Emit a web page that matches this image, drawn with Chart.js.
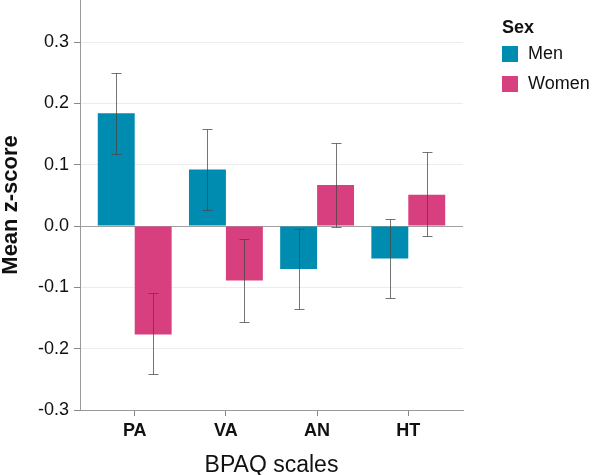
<!DOCTYPE html>
<html>
<head>
<meta charset="utf-8">
<script src="https://cdn.jsdelivr.net/npm/chart.js@4.4.1/dist/chart.umd.min.js"></script>
<style>
  html, body { margin: 0; padding: 0; background: #fff; }
  #wrap { width: 596px; height: 475px; }
</style>
</head>
<body>
<div id="wrap"><canvas id="chart" width="596" height="475"></canvas></div>
<script>
/** Data */
const scaleNames = ['PA', 'VA', 'AN', 'HT'];
const menMean = [0.184, 0.092, -0.070, -0.053];
const menLow = [0.117, 0.026, -0.135, -0.118];
const menHigh = [0.249, 0.158, -0.005, 0.012];
const womenMean = [-0.177, -0.089, 0.067, 0.051];
const womenLow = [-0.242, -0.157, -0.001, -0.017];
const womenHigh = [-0.110, -0.021, 0.136, 0.120];
const yTicks = [-0.3, -0.2, -0.1, 0.0, 0.1, 0.2, 0.3];

const MEN = '#008BB0';
const WOMEN = '#D83F7E';
const FONT = 'Arial, "Liberation Sans", Helvetica, sans-serif';

Chart.defaults.font.family = FONT;
Chart.defaults.color = '#111';

const toPoints = arr => arr.map((v, i) => ({ x: i, y: v }));

/** Error bars drawn over bars */
const errorBars = {
  id: 'errorBars',
  afterDatasetsDraw(chart) {
    const ctx = chart.ctx;
    const y = chart.scales.y;
    ctx.save();
    ctx.strokeStyle = 'rgba(70,70,70,0.75)';
    ctx.lineWidth = 1;
    chart.data.datasets.forEach((ds, di) => {
      const meta = chart.getDatasetMeta(di);
      meta.data.forEach((bar, i) => {
        const x = Math.round(bar.x) + 0.5;
        const lo = Math.round(y.getPixelForValue(ds.errLow[i])) + 0.5;
        const hi = Math.round(y.getPixelForValue(ds.errHigh[i])) + 0.5;
        ctx.beginPath();
        ctx.moveTo(x, lo); ctx.lineTo(x, hi);
        ctx.moveTo(x - 5, lo); ctx.lineTo(x + 5, lo);
        ctx.moveTo(x - 5, hi); ctx.lineTo(x + 5, hi);
        ctx.stroke();
      });
    });
    ctx.restore();
  }
};

/** Legend on the right */
const sideLegend = {
  id: 'sideLegend',
  afterDraw(chart) {
    const ctx = chart.ctx;
    ctx.save();
    ctx.textBaseline = 'middle';
    ctx.textAlign = 'left';
    ctx.fillStyle = '#111';
    ctx.font = 'bold 18px ' + FONT;
    ctx.fillText('Sex', 502, 28);
    chart.data.datasets.forEach((ds, i) => {
      const top = 46 + i * 30;
      ctx.fillStyle = ds.backgroundColor;
      ctx.fillRect(502, top, 16, 16);
      ctx.fillStyle = '#111';
      ctx.font = '18px ' + FONT;
      ctx.fillText(ds.label, 528, top + 8);
    });
    ctx.restore();
  }
};

new Chart(document.getElementById('chart'), {
  type: 'bar',
  data: {
    datasets: [{
      label: 'Men',
      data: toPoints(menMean),
      errLow: menLow,
      errHigh: menHigh,
      backgroundColor: MEN
    }, {
      label: 'Women',
      data: toPoints(womenMean),
      errLow: womenLow,
      errHigh: womenHigh,
      backgroundColor: WOMEN
    }]
  },
  options: {
    responsive: false,
    animation: false,
    layout: { padding: { top: 0, right: 133, left: 0, bottom: 0 } },
    categoryPercentage: 0.81,
    barPercentage: 1.0,
    plugins: {
      legend: { display: false },
      tooltip: { enabled: false }
    },
    scales: {
      x: {
        type: 'linear',
        min: -0.6,
        max: 3.6,
        offset: false,
        afterBuildTicks: s => { s.ticks = scaleNames.map((_, i) => ({ value: i })); },
        afterFit: s => { s.height = 65; s.paddingLeft = 0; s.paddingRight = 0; },
        ticks: {
          autoSkip: false,
          maxRotation: 0,
          padding: 4,
          color: '#111',
          font: { size: 18, weight: 'bold' },
          callback: v => scaleNames[v]
        },
        grid: { offset: false, drawOnChartArea: false, drawTicks: true, tickLength: 6, tickColor: '#888' },
        border: { color: '#999' },
        title: {
          display: true,
          text: 'BPAQ scales',
          color: '#111',
          font: { size: 23 },
          padding: { top: 0, bottom: -4 }
        }
      },
      y: {
        min: -0.3,
        max: 0.3685,
        afterBuildTicks: s => { s.ticks = yTicks.map(v => ({ value: v })); },
        afterFit: s => { s.width = 80; s.paddingTop = 0; s.paddingBottom = 0; },
        ticks: {
          padding: 5,
          color: '#111',
          font: { size: 18 },
          callback: v => v.toFixed(1)
        },
        grid: {
          color: ctx => (ctx.tick && Math.abs(ctx.tick.value) < 1e-9) ? '#a0a0a0' : '#ececec',
          tickColor: '#888',
          tickLength: 6
        },
        border: { color: '#999' },
        title: {
          display: true,
          text: 'Mean z-score',
          color: '#111',
          font: { size: 22, weight: 'bold' },
          padding: { top: -2, bottom: 0 }
        }
      }
    }
  },
  plugins: [errorBars, sideLegend]
});
</script>
</body>
</html>
